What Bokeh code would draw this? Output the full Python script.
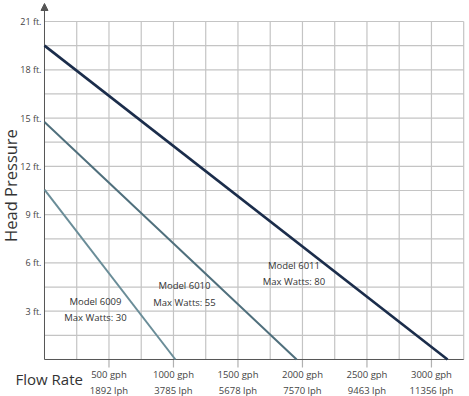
from bokeh.plotting import figure
from bokeh.models import Range1d, Arrow, NormalHead
from bokeh.core.properties import value
from bokeh.embed import file_html
from bokeh.resources import INLINE

# ---- data ----
FT_TICKS = [3, 6, 9, 12, 15, 18, 21]
GPH_TICKS = [500, 1000, 1500, 2000, 2500, 3000]
LPH_TICKS = [1892, 3785, 5678, 7570, 9463, 11356]
GRID_GPH = [250, 500, 750, 1000, 1250, 1500, 1750, 2000, 2250, 2500, 2750, 3000, 3250]
GRID_FT = [1.5, 3, 4.5, 6, 7.5, 9, 10.5, 12, 13.5, 15, 16.5, 18, 19.5, 21]

MODELS = ["Model 6009", "Model 6010", "Model 6011"]
WATTS = [30, 55, 80]
MAX_FLOW = [1015, 1955, 3125]     # gph at zero head
MAX_HEAD = [10.55, 14.75, 19.5]   # ft at zero flow
LABEL_GPH = [395, 1085, 1934]
LABEL_FT = [3.1, 4.07, 5.35]
LINE_COLORS = ["#6a8d98", "#4f6f7c", "#1b2d4b"]
LINE_WIDTHS = [2, 2, 2.6]

W, H = 469, 396
X_START, X_END = -341, 3295
Y_START, Y_END = -2.299, 22.305
PX_X = W / (X_END - X_START)      # pixels per gph
PX_Y = H / (Y_END - Y_START)      # pixels per ft
FONT = "Open Sans"
AXIS = "#555555"
GRID = "#c4c4c4"

p = figure(width=W, height=H, x_range=Range1d(X_START, X_END), y_range=Range1d(Y_START, Y_END),
           output_backend="svg", toolbar_location=None,
           x_axis_location=None, y_axis_location=None,
           min_border_left=0, min_border_right=0, min_border_top=0, min_border_bottom=0)
p.outline_line_color = None
p.grid.visible = False
p.background_fill_color = "white"
p.border_fill_color = "white"

# grid
p.segment(x0=GRID_GPH, y0=0, x1=GRID_GPH, y1=GRID_FT[-1], line_color=GRID, line_width=1.2)
p.segment(x0=0, y0=GRID_FT, x1=GRID_GPH[-1], y1=GRID_FT, line_color=GRID, line_width=1.2)

# x tick marks (below axis)
p.segment(x0=GPH_TICKS, y0=0, x1=GPH_TICKS, y1=-8 / PX_Y, line_color="#b0b0b0", line_width=1.2)

# axis lines
p.segment(x0=[0], y0=[0], x1=[GRID_GPH[-1]], y1=[0], line_color=AXIS, line_width=1)
p.segment(x0=[0], y0=[0], x1=[0], y1=[Y_END - 6 / PX_Y], line_color=AXIS, line_width=1)
p.add_layout(Arrow(end=NormalHead(size=7, fill_color=AXIS, line_color=AXIS),
                   x_start=0, y_start=GRID_FT[-1], x_end=0, y_end=Y_END - 3 / PX_Y,
                   line_color=AXIS, line_width=1))

# curves
for i in range(len(MODELS)):
    p.line([0, MAX_FLOW[i]], [MAX_HEAD[i], 0], line_color=LINE_COLORS[i], line_width=LINE_WIDTHS[i])

p.text(x=LABEL_GPH, y=LABEL_FT,
       text=[f"{m}\nMax Watts: {w}" for m, w in zip(MODELS, WATTS)],
       text_align="center", text_baseline="middle", text_font=value(FONT),
       text_font_size="9.5px", text_color="#333333", text_line_height=1.25)

# tick labels
p.text(x=-3 / PX_X, y=FT_TICKS, text=[f"{f} ft." for f in FT_TICKS],
       text_align="right", text_baseline="middle", text_font=value(FONT),
       text_font_size="9px", text_color="#444444")
p.text(x=GPH_TICKS, y=-8.5 / PX_Y,
       text=[f"{g} gph\n{l} lph" for g, l in zip(GPH_TICKS, LPH_TICKS)],
       text_align="center", text_baseline="top", text_font=value(FONT),
       text_font_size="9.5px", text_color="#444444", text_line_height=1.2)

# axis titles
p.text(x=[-29 / PX_X], y=[-19.5 / PX_Y], text=["Flow Rate"],
       text_align="left", text_baseline="middle", text_font=value(FONT),
       text_font_size="15px", text_color="#333333")
p.text(x=[-34 / PX_X], y=[10.81], text=["Head Pressure"], angle=1.5707963,
       text_align="center", text_baseline="middle", text_font=value(FONT),
       text_font_size="16.5px", text_color="#333333")

open("out.html", "w").write(file_html(p, INLINE))
